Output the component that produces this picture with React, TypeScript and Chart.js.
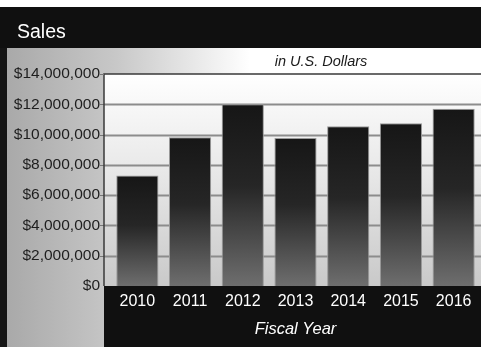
import React, { useEffect, useRef } from "react";
import { Chart, registerables } from "chart.js";

Chart.register(...registerables);

const years: string[] = ["2010", "2011", "2012", "2013", "2014", "2015", "2016"];
const salesValues: number[] = [7300000, 9830000, 12000000, 9770000, 10550000, 10750000, 11700000];
const chartTitle = "Sales";
const chartSubtitle = "in U.S. Dollars";
const xAxisTitle = "Fiscal Year";
const yMin = 0;
const yMax = 14000000;
const yStep = 2000000;

const FONT = "'Liberation Sans', Arial, Helvetica, sans-serif";
const W = 481;
const H = 347;

const backgroundPlugin = {
  id: "bgPlugin",
  beforeDraw(chart: any) {
    const { ctx, chartArea } = chart;
    const plotLeft = chartArea.left - 7;
    ctx.save();
    // whole page white
    ctx.fillStyle = "#ffffff";
    ctx.fillRect(0, 0, W, H);
    // gray -> white gradient panel
    const g = ctx.createLinearGradient(7, 0, 250, 0);
    g.addColorStop(0, "#a9a9a9");
    g.addColorStop(0.45, "#c8c8c8");
    g.addColorStop(1, "#ffffff");
    ctx.fillStyle = g;
    ctx.fillRect(0, 48, W, H - 48);
    // left dark border
    ctx.fillStyle = "#151515";
    ctx.fillRect(0, 7, 7, H - 7);
    // header band
    ctx.fillStyle = "#101010";
    ctx.fillRect(0, 7, W, 41);
    // plot background
    const pg = ctx.createLinearGradient(0, chartArea.top, 0, chartArea.bottom);
    pg.addColorStop(0, "#ffffff");
    pg.addColorStop(0.5, "#e6e6e6");
    pg.addColorStop(1, "#c9c9c9");
    ctx.fillStyle = pg;
    ctx.fillRect(plotLeft, chartArea.top, W - plotLeft, chartArea.bottom - chartArea.top);
    // bottom black band
    ctx.fillStyle = "#101010";
    ctx.fillRect(plotLeft, chartArea.bottom, W - plotLeft, H - chartArea.bottom);
    ctx.restore();
  },
  beforeDatasetsDraw(chart: any) {
    const { ctx, chartArea, scales } = chart;
    const yScale = scales.y;
    const plotLeft = chartArea.left - 7;
    ctx.save();
    yScale.ticks.forEach((t: any) => {
      const y = Math.round(yScale.getPixelForValue(t.value)) + 0.5;
      if (t.value === yMax || t.value === yMin) return;
      ctx.strokeStyle = "#8c8c8c";
      ctx.lineWidth = 2;
      ctx.beginPath();
      ctx.moveTo(plotLeft, y);
      ctx.lineTo(W, y);
      ctx.stroke();
      ctx.strokeStyle = "#777777";
      ctx.lineWidth = 1;
      ctx.beginPath();
      ctx.moveTo(plotLeft - 4, y);
      ctx.lineTo(plotLeft, y);
      ctx.stroke();
    });
    // plot borders
    ctx.strokeStyle = "#3a3a3a";
    ctx.lineWidth = 1.5;
    ctx.beginPath();
    ctx.moveTo(plotLeft, chartArea.bottom);
    ctx.lineTo(plotLeft, chartArea.top);
    ctx.lineTo(W, chartArea.top);
    ctx.stroke();
    ctx.strokeStyle = "#777777";
    ctx.lineWidth = 1;
    ctx.beginPath();
    ctx.moveTo(plotLeft - 4, chartArea.top + 0.5);
    ctx.lineTo(plotLeft, chartArea.top + 0.5);
    ctx.stroke();
    ctx.restore();
  },
  afterDraw(chart: any) {
    const { ctx, chartArea } = chart;
    ctx.save();
    ctx.fillStyle = "#ffffff";
    ctx.font = `19.5px ${FONT}`;
    ctx.textAlign = "left";
    ctx.textBaseline = "alphabetic";
    ctx.fillText(chartTitle, 17, 37.5);
    ctx.fillStyle = "#1a1a1a";
    ctx.font = `italic 14.5px ${FONT}`;
    ctx.textAlign = "center";
    ctx.textBaseline = "middle";
    ctx.fillText(chartSubtitle, 321, 62);
    ctx.restore();
  },
};

export default function App() {
  const canvasRef = useRef<HTMLCanvasElement | null>(null);

  useEffect(() => {
    if (!canvasRef.current) return;
    const chart = new Chart(canvasRef.current, {
      type: "bar",
      data: {
        labels: years,
        datasets: [
          {
            data: salesValues,
            backgroundColor: (c: any) => {
              const ch = c.chart;
              const area = ch.chartArea;
              if (!area || c.raw == null) return "#222222";
              const top = ch.scales.y.getPixelForValue(c.raw);
              const g = ch.ctx.createLinearGradient(0, top, 0, area.bottom);
              g.addColorStop(0, "#161616");
              g.addColorStop(0.45, "#262626");
              g.addColorStop(1, "#6e6e6e");
              return g;
            },
            borderColor: "#9a9a9a",
            borderWidth: 1,
            borderSkipped: "bottom",
            barPercentage: 0.8,
            categoryPercentage: 1,
          },
        ],
      },
      options: {
        responsive: false,
        animation: false,
        layout: { padding: { top: 74, right: 1, left: 0, bottom: 0 } },
        plugins: {
          legend: { display: false },
          title: { display: false },
          tooltip: { enabled: false },
        },
        scales: {
          x: {
            grid: { display: false, drawTicks: false },
            border: { display: false },
            ticks: {
              color: "#ffffff",
              padding: 6,
              font: { family: FONT, size: 16 },
            },
            title: {
              display: true,
              text: xAxisTitle,
              color: "#ffffff",
              font: { family: FONT, size: 16.5, style: "italic" },
              padding: { top: 0, bottom: 8 },
            },
            afterFit(scale: any) {
              scale.height = 61;
            },
          },
          y: {
            min: yMin,
            max: yMax,
            grid: { display: false, drawTicks: false },
            border: { display: false },
            ticks: {
              stepSize: yStep,
              color: "#1e1e1e",
              padding: 11,
              font: { family: FONT, size: 15.5 },
              callback: (v: any) => "$" + Number(v).toLocaleString("en-US"),
            },
            afterFit(scale: any) {
              scale.width = 111;
            },
          },
        },
      },
      plugins: [backgroundPlugin],
    });
    return () => chart.destroy();
  }, []);

  return (
    <div style={{ position: "absolute", left: 0, top: 0, width: W, height: H }}>
      <canvas ref={canvasRef} width={W} height={H} style={{ display: "block" }} />
    </div>
  );
}
